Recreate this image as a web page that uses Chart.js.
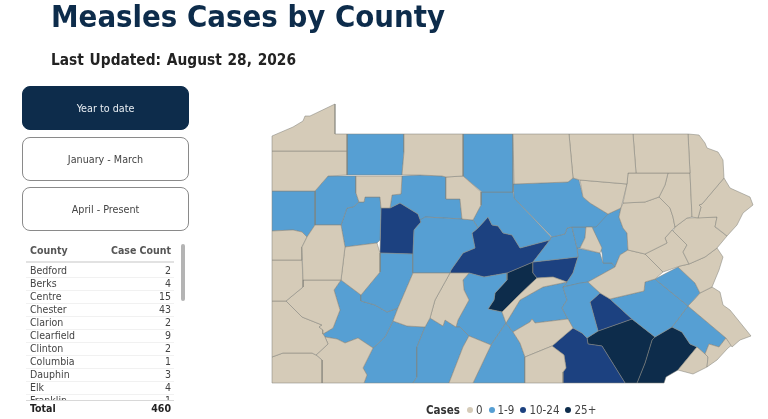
<!DOCTYPE html>
<html>
<head>
<meta charset="utf-8">
<title>Measles Cases by County</title>
<script src="https://cdn.jsdelivr.net/npm/chart.js@4"></script>
<style>
  html, body { margin: 0; padding: 0; background: #fff; overflow: hidden; }
  body { width: 768px; height: 419px; position: relative; font-family: "DejaVu Sans Condensed", "DejaVu Sans", sans-serif; }
  #map { position: absolute; left: 0; top: 0; }
  h1 { position: absolute; left: 51px; top: -5px; margin: 0; font-size: 30.8px; line-height: 42px; font-weight: bold; color: #0d2c4b; white-space: nowrap; }
  .updated { position: absolute; left: 51px; top: 50px; font-size: 15.3px; line-height: 20px; font-weight: bold; color: #222; white-space: nowrap; word-spacing: 1px; }
  .btn { position: absolute; left: 22px; width: 167px; box-sizing: border-box; border: 1px solid #8a8a8a; border-radius: 8px; background: #fff; color: #444; font-size: 10.7px; display: flex; align-items: center; justify-content: center; }
  .btn.on { background: #0d2c4b; border-color: #0d2c4b; color: #e8eef3; }
  .tbl { position: absolute; left: 26px; top: 243px; width: 148px; height: 176px; overflow: hidden; font-size: 10.5px; color: #444; }
  .row { position: absolute; left: 0; right: 0; height: 13px; line-height: 13px; border-bottom: 1px solid #f1f1f1; }
  .row span:first-child { position: absolute; left: 4px; }
  .row span:last-child { position: absolute; right: 3px; }
  .head { font-weight: bold; color: #555; height: 18px; line-height: 15px; border-bottom: 2px solid #e2e2e2; }
  .total { position: absolute; left: 0; right: 0; top: 157px; height: 16px; line-height: 15px; font-weight: bold; color: #222; background: #fff; border-top: 1px solid #d8d8d8; }
  .total span:first-child { position: absolute; left: 4px; }
  .total span:last-child { position: absolute; right: 3px; }
  .scroll { position: absolute; left: 181px; top: 244px; width: 4px; height: 57px; border-radius: 2px; background: #b4b4b4; }
  .legend { position: absolute; left: 426px; top: 402px; font-size: 11.5px; line-height: 16px; color: #444; white-space: nowrap; }
  .legend b { color: #333; margin-right: 1px; }
  .legend i { display: inline-block; width: 6px; height: 6px; border-radius: 50%; margin: 0 3px 1px 6px; }
</style>
</head>
<body>
<canvas id="map" width="768" height="419"></canvas>
<h1>Measles Cases by County</h1>
<div class="updated">Last Updated: August 28, 2026</div>
<div id="buttons"></div>
<div class="tbl" id="tbl"></div>
<div class="scroll"></div>
<div class="legend" id="legend"></div>

<script>
const periods = ['Year to date', 'January - March', 'April - Present'];
const counties = ['Bedford', 'Berks', 'Centre', 'Chester', 'Clarion', 'Clearfield', 'Clinton', 'Columbia', 'Dauphin', 'Elk', 'Franklin'];
const caseCounts = [2, 4, 15, 43, 2, 9, 2, 1, 3, 4, 1];
const totalCases = 460;
const binLabels = ['0', '1-9', '10-24', '25+'];
const binColors = ['#d5cbb8', '#569fd3', '#1c4180', '#0d2c4b'];

// county outlines as x,y runs, one list per legend bin
const noCases = [
  [272,136, 293,127, 303,121, 305,116, 310,116, 335,104, 335,134, 347,134, 347,151, 272,151],
  [272,151, 347,151, 347,175, 328,176, 315,191, 272,191],
  [404,134, 463,134, 463,176, 446,177, 442,176, 420,175, 402,175, 404,152],
  [513,134, 569,134, 573,178, 568,182, 514,184],
  [569,134, 633,134, 636,173, 628,173, 627,184, 580,180, 573,178],
  [633,134, 688,134, 690,173, 636,173],
  [688,134, 699,135, 705,143, 707,148, 718,152, 723,160, 724,178, 702,204, 699,205, 701,207, 698,218, 692,217, 690,173],
  [724,178, 730,188, 750,197, 753,205, 743,213, 737,225, 727,236, 717,228, 715,227, 717,217, 698,218, 701,207, 699,205, 702,204],
  [628,173, 668,173, 665,185, 659,197, 645,202, 623,203, 627,184],
  [668,173, 690,173, 692,217, 687,218, 675,227, 673,217, 670,208, 659,197, 665,185],
  [623,203, 645,202, 659,197, 670,208, 673,217, 675,227, 672,230, 665,238, 667,243, 645,254, 628,250, 627,233, 623,228, 619,217, 621,208],
  [675,227, 687,218, 717,217, 715,227, 727,236, 717,248, 705,257, 689,264, 683,252, 687,245, 673,231],
  [672,230, 687,245, 683,252, 689,264, 680,266, 663,272, 645,254, 667,243, 665,238],
  [588,282, 615,267, 620,255, 628,250, 645,254, 663,272, 655,279, 645,282, 644,291, 610,299, 600,293],
  [680,266, 689,264, 705,257, 717,248, 723,257, 719,270, 712,287, 700,293, 695,283, 678,267],
  [700,293, 712,287, 720,292, 723,305, 730,310, 751,336, 740,340, 732,347, 726,338, 688,306, 695,299],
  [709,344, 719,347, 726,338, 732,345, 728,348, 717,360, 707,367, 708,357, 705,354],
  [697,347, 705,354, 708,357, 707,367, 693,374, 678,370],
  [525,357, 552,346, 564,355, 566,368, 563,372, 563,383, 525,383],
  [502,312, 517,297, 537,278, 553,277, 567,282, 543,287, 520,300, 506,323],
  [513,332, 530,322, 532,319, 535,323, 568,319, 573,328, 552,346, 525,357, 520,343],
  [469,336, 491,345, 473,383, 449,383, 463,347],
  [413,273, 450,273, 435,300, 430,318, 425,327, 407,326, 393,321, 398,308, 407,287],
  [450,273, 469,273, 463,280, 464,290, 469,300, 458,320, 456,327, 445,320, 443,326, 430,318, 435,300],
  [446,177, 463,176, 481,192, 481,205, 473,220, 462,219, 460,199, 446,199],
  [580,180, 627,184, 621,208, 608,214, 590,203, 583,197],
  [586,227, 592,227, 602,248, 600,253, 580,248, 585,238],
  [356,176, 402,176, 401,194, 392,195, 390,208, 381,208, 380,197, 365,197, 364,202, 359,202, 356,193],
  [315,225, 341,225, 345,247, 341,280, 303,280, 302,247, 307,237],
  [272,231, 293,230, 302,232, 307,237, 302,247, 302,260, 272,260],
  [272,260, 302,260, 303,280, 303,287, 286,301, 272,301],
  [345,247, 377,243, 380,253, 380,272, 361,295, 341,280],
  [303,280, 341,280, 334,290, 340,310, 333,328, 323,334, 323,330, 319,327, 322,325, 302,317, 286,301, 303,287],
  [272,301, 286,301, 302,317, 322,325, 319,327, 323,330, 323,334, 325,337, 328,344, 316,355, 312,353, 283,353, 272,357],
  [272,357, 283,353, 312,353, 316,355, 322,360, 322,383, 272,383],
  [325,337, 337,339, 345,343, 358,338, 373,348, 363,368, 367,375, 364,383, 322,383, 322,360, 316,355, 328,344]
];
const lowCases = [
  [347,134, 404,134, 404,152, 402,175, 347,175],
  [463,134, 513,134, 513,192, 482,192, 463,176],
  [655,279, 678,267, 695,283, 700,293, 688,306],
  [610,299, 644,291, 645,282, 655,279, 688,306, 672,327, 655,337, 632,319],
  [688,306, 726,338, 719,347, 709,344, 705,354, 697,347, 690,344, 682,332, 672,327],
  [563,287, 580,283, 588,282, 600,293, 590,302, 598,331, 587,338, 582,333, 573,328, 568,319, 562,308, 567,300],
  [506,323, 520,300, 543,287, 567,282, 563,287, 567,300, 562,308, 568,319, 535,323, 532,319, 530,322, 513,332],
  [506,323, 513,332, 520,343, 525,357, 525,383, 473,383, 491,345],
  [425,327, 430,318, 443,326, 445,320, 456,327, 460,327, 469,336, 463,347, 449,383, 413,383, 417,377, 417,347],
  [469,273, 484,277, 507,273, 507,280, 495,293, 494,300, 488,309, 502,312, 506,323, 491,345, 469,336, 460,327, 456,327, 458,320, 469,300, 464,290, 463,280],
  [420,220, 425,217, 462,219, 473,220, 478,228, 472,233, 475,248, 463,253, 451,270, 450,273, 413,273, 413,254, 414,230, 421,222],
  [481,192, 513,192, 514,198, 551,237, 550,240, 520,248, 512,235, 503,233, 498,226, 492,225, 488,217, 478,228, 473,220, 481,205],
  [513,184, 568,182, 573,178, 579,180, 583,197, 590,203, 608,214, 596,227, 572,227, 567,228, 565,234, 552,237, 514,198],
  [608,214, 621,208, 619,217, 623,228, 627,233, 628,250, 620,255, 615,267, 612,263, 603,263, 602,253, 592,227],
  [572,227, 586,227, 585,238, 580,248, 577,248],
  [551,237, 565,234, 567,228, 572,227, 577,248, 578,257, 533,262, 550,240],
  [577,248, 600,253, 603,263, 612,263, 615,267, 588,282, 563,287, 567,282, 573,273, 578,257],
  [272,191, 315,191, 315,225, 307,237, 302,232, 293,230, 272,231],
  [315,191, 328,176, 356,176, 356,193, 359,202, 353,207, 347,208, 341,225, 315,225],
  [402,176, 420,175, 442,176, 446,177, 446,199, 460,199, 462,219, 425,217, 421,222, 418,214, 400,203, 390,208, 392,195, 401,194],
  [365,197, 380,197, 381,208, 380,240, 377,243, 345,247, 341,225, 347,208, 353,207, 359,202, 364,202],
  [380,253, 413,254, 413,273, 407,287, 398,308, 387,312, 375,305, 361,301, 361,295, 380,272],
  [341,280, 361,295, 361,301, 375,305, 387,312, 398,308, 393,321, 385,337, 373,348, 358,338, 345,343, 337,339, 325,337, 323,334, 333,328, 340,310, 334,290],
  [393,321, 407,326, 425,327, 417,347, 417,377, 413,383, 364,383, 367,375, 363,368, 373,348, 385,337]
];
const midCases = [
  [381,208, 390,208, 400,203, 418,214, 421,222, 414,230, 413,254, 380,253],
  [488,217, 492,225, 498,226, 503,233, 512,235, 520,248, 550,240, 533,262, 507,273, 484,277, 469,273, 450,273, 451,270, 463,253, 475,248, 472,233, 478,228],
  [533,262, 578,257, 573,273, 567,282, 553,277, 537,278, 533,273],
  [590,302, 600,293, 610,299, 632,319, 598,331],
  [552,346, 573,328, 582,333, 587,338, 588,344, 602,346, 625,383, 563,383, 563,372, 566,368, 564,355]
];
const highCases = [
  [507,273, 533,262, 533,273, 537,278, 517,297, 502,312, 488,309, 494,300, 495,293, 507,280],
  [632,319, 655,337, 652,340, 645,363, 637,383, 625,383, 602,346, 588,344, 587,338, 598,331],
  [655,337, 672,327, 682,332, 690,344, 697,347, 678,370, 666,377, 664,383, 637,383, 645,363, 652,340]
];

function outlineToPoints(run) {
  const pts = [];
  for (let i = 0; i < run.length; i += 2) pts.push({ x: run[i], y: run[i + 1] });
  pts.push({ x: run[0], y: run[1] });
  return pts;
}

function buildDatasets() {
  const datasets = [];
  [noCases, lowCases, midCases, highCases].forEach((bin, b) => {
    bin.forEach(run => {
      datasets.push({
        label: binLabels[b],
        data: outlineToPoints(run),
        showLine: true,
        fill: 'shape',
        tension: 0,
        pointRadius: 0,
        borderWidth: 0.7,
        borderColor: 'rgba(130, 130, 122, 0.75)',
        backgroundColor: binColors[b]
      });
    });
  });
  return datasets;
}

new Chart(document.getElementById('map').getContext('2d'), {
  type: 'scatter',
  data: { datasets: buildDatasets() },
  options: {
    responsive: false,
    animation: false,
    layout: { padding: 0 },
    plugins: { legend: { display: false }, tooltip: { enabled: false } },
    scales: {
      x: { type: 'linear', min: 0, max: 768, display: false },
      y: { type: 'linear', min: 0, max: 419, reverse: true, display: false }
    }
  }
});

// period buttons
const btnTops = [86, 137, 187];
document.getElementById('buttons').innerHTML = periods.map((p, i) =>
  `<div class="btn${i === 0 ? ' on' : ''}" style="top:${btnTops[i]}px;height:44px">${p}</div>`).join('');

// county table
let rows = `<div class="row head" style="top:0"><span>County</span><span>Case Count</span></div>`;
counties.forEach((c, i) => {
  rows += `<div class="row" style="top:${21 + i * 13}px"><span>${c}</span><span>${caseCounts[i]}</span></div>`;
});
rows += `<div class="total"><span>Total</span><span>${totalCases}</span></div>`;
document.getElementById('tbl').innerHTML = rows;

// legend
document.getElementById('legend').innerHTML = '<b>Cases</b>' + binLabels.map((l, i) =>
  `<i style="background:${binColors[i]}"></i>${l}`).join('');
</script>
</body>
</html>
